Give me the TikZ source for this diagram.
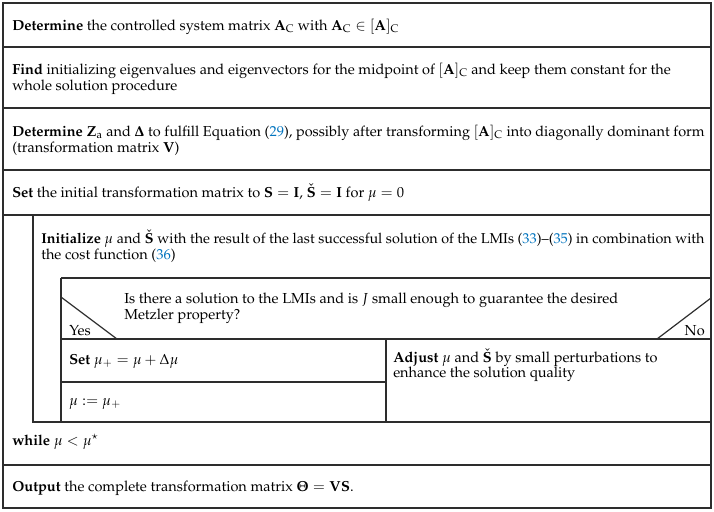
\documentclass[tikz,border=0pt]{standalone}
\usepackage[T1]{fontenc}
\usepackage{mathpazo}
\usepackage{xcolor}
\definecolor{refblue}{RGB}{0,115,190}
\definecolor{linegray}{RGB}{45,45,45}
\newcommand{\rf}[1]{\textcolor{refblue}{#1}}
\begin{document}
\begin{tikzpicture}[x=0.75pt,y=-0.75pt,
  nsline/.style={draw=linegray,line width=0.9pt},
  txt/.style={anchor=base west,inner sep=0pt,font=\fontsize{10.9}{13}\selectfont},
  txtr/.style={anchor=base east,inner sep=0pt,font=\fontsize{10.9}{13}\selectfont}]
\useasboundingbox (0,0) rectangle (714,511);
% outer frame
\draw[nsline] (3,3) rectangle (711,508);
% top-level separators
\draw[nsline] (3,47) -- (711,47);
\draw[nsline] (3,108) -- (711,108);
\draw[nsline] (3,170) -- (711,170);
\draw[nsline] (3,215) -- (711,215);
% loop body
\draw[nsline] (33,215) -- (33,422) -- (711,422);
\draw[nsline] (3,465) -- (711,465);
% condition box
\draw[nsline] (61,278) -- (711,278);
\draw[nsline] (61,278) -- (61,422);
\draw[nsline] (61,339) -- (711,339);
\draw[nsline] (61,297) -- (117,339);
\draw[nsline] (711,298) -- (657,339);
\draw[nsline] (386,339) -- (386,422);
\draw[nsline] (61,382) -- (386,382);
% texts
\node[txt] (t1) at (12,30) {\textbf{Determine} the controlled system matrix $\mathbf{A}_\mathrm{C}$ with $\mathbf{A}_\mathrm{C}\in[\mathbf{A}]_\mathrm{C}$};
\node[txt] (t2a) at (12,74) {\textbf{Find} initializing eigenvalues and eigenvectors for the midpoint of $[\mathbf{A}]_\mathrm{C}$ and keep them constant for the};
\node[txt] (t2b) at (12,90.5) {whole solution procedure};
\node[txt,font=\fontsize{10.85}{13}\selectfont] (t3a) at (12,136) {\textbf{Determine} $\mathbf{Z}_\mathrm{a}$ and $\mathbf{\Delta}$ to fulfill Equation (\rf{29}), possibly after transforming $[\mathbf{A}]_\mathrm{C}$ into diagonally dominant form};
\node[txt] (t3b) at (12,152.5) {(transformation matrix $\mathbf{V}$)};
\node[txt] (t4) at (12,197) {\textbf{Set} the initial transformation matrix to $\mathbf{S}=\mathbf{I}$, $\check{\mathbf{S}}=\mathbf{I}$ for $\mu=0$};
\node[txt,font=\fontsize{10.75}{13}\selectfont] (t5a) at (41,243) {\textbf{Initialize} $\mu$ and $\check{\mathbf{S}}$ with the result of the last successful solution of the LMIs (\rf{33})--(\rf{35}) in combination with};
\node[txt] (t5b) at (41,259.5) {the cost function (\rf{36})};
\node[txt] (c1) at (124,303) {Is there a solution to the LMIs and is $J$ small enough to guarantee the desired};
\node[txt] (c2) at (124,319) {Metzler property?};
\node[txt] (yes) at (69,335) {Yes};
\node[txtr] (no) at (705,335) {No};
\node[txt] (s1) at (69,364) {\textbf{Set} $\mu_+=\mu+\Delta\mu$};
\node[txt] (s2) at (69,405) {$\mu:=\mu_+$};
\node[txt] (a1) at (393,362) {\textbf{Adjust} $\mu$ and $\check{\mathbf{S}}$ by small perturbations to};
\node[txt] (a2) at (393,377) {enhance the solution quality};
\node[txt] (w) at (12,445) {\textbf{while} $\mu<\mu^\star$};
\node[txt] (o) at (12,491) {\textbf{Output} the complete transformation matrix $\mathbf{\Theta}=\mathbf{VS}$.};
\end{tikzpicture}
\end{document}
